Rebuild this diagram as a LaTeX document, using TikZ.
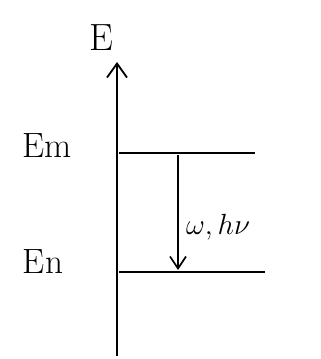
\documentclass[tikz,border=0pt]{standalone}
\usetikzlibrary{arrows.meta}
\begin{document}
\begin{tikzpicture}[x=0.25mm,y=-0.25mm,
  lbl/.style={font=\fontsize{25}{28}\selectfont, inner sep=0pt},
  level/.style={line width=1.3pt},
  axis/.style={line width=1.8pt,-{Straight Barb[length=3.5mm,width=5mm,line width=1.3pt]}},
  trans/.style={line width=1.3pt,-{Straight Barb[length=3mm,width=4mm,line width=1.2pt]}}]
\useasboundingbox (0,0) rectangle (320,359);
\coordinate (a0) at (117,356);
\coordinate (a1) at (117,62);
\draw[axis] (a0) -- (a1);
\node[lbl, font=\fontsize{27}{30}\selectfont] (E) at (101,38) {E};
\node[lbl] (Em) at (47,146) {Em};
\node[lbl] (En) at (43,262) {En};
\coordinate (m0) at (119,153);
\coordinate (m1) at (255,153);
\coordinate (n0) at (119,272);
\coordinate (n1) at (265,272);
\draw[level] (m0) -- (m1);
\draw[level] (n0) -- (n1);
\coordinate (t0) at (178,155);
\coordinate (t1) at (178,270);
\draw[trans] (t0) -- (t1);
\node[lbl, font=\fontsize{21}{24}\selectfont] (w) at (218,227) {$\omega,h\nu$};
\end{tikzpicture}
\end{document}
